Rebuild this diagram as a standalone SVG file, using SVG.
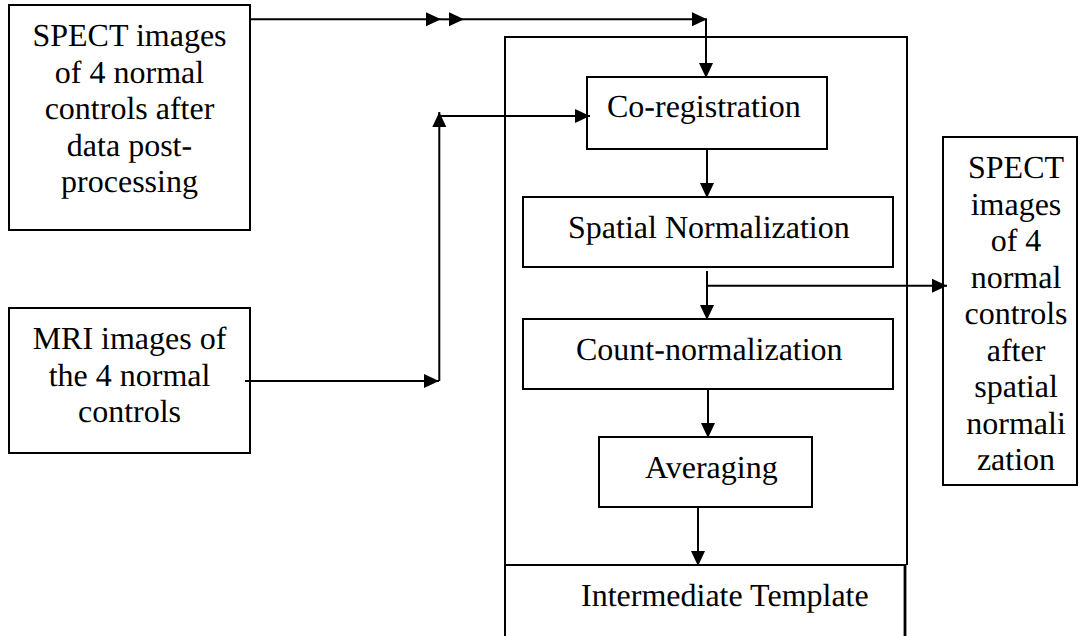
<svg xmlns="http://www.w3.org/2000/svg" width="1082" height="636" viewBox="0 0 1082 636">
  <defs>
    <style>
      .box { fill: #ffffff; stroke: #000000; stroke-width: 2; }
      .frame { fill: none; stroke: #000000; stroke-width: 2; }
      .wire { fill: none; stroke: #000000; stroke-width: 2; }
      .arrow { marker-end: url(#head); }
      text { text-rendering: geometricPrecision; }
    </style>
    <marker id="head" viewBox="0 0 15 14" markerUnits="userSpaceOnUse" markerWidth="15" markerHeight="14" refX="15" refY="7" orient="auto" overflow="visible">
      <path d="M0,0 L15,7 L0,14 Z" fill="#000000"/>
    </marker>
  </defs>

  <rect width="1082" height="636" fill="#ffffff"/>

  <!-- processing frame enclosing the pipeline steps -->
  <g id="pipeline-frame">
    <path class="frame" d="M505,640 V37 H907 V565"/>
  </g>

  <g font-family="'Liberation Serif', serif" font-size="32" fill="#000000">
    <g id="spect-input" text-anchor="middle">
      <rect class="box" x="9" y="5" width="241" height="225"/>
      <text x="129.5" y="46">SPECT images</text>
      <text x="129.5" y="82.5">of 4 normal</text>
      <text x="129.5" y="119">controls after</text>
      <text x="129.5" y="155.5">data post-</text>
      <text x="129.5" y="192">processing</text>
    </g>

    <g id="mri-input" text-anchor="middle">
      <rect class="box" x="9" y="308" width="241" height="145"/>
      <text x="129.5" y="349">MRI images of</text>
      <text x="129.5" y="386">the 4 normal</text>
      <text x="129.5" y="422">controls</text>
    </g>

    <g id="coregistration">
      <rect class="box" x="587" y="77" width="240" height="72"/>
      <text x="607" y="117">Co-registration</text>
    </g>

    <g id="spatial-normalization">
      <rect class="box" x="523" y="197" width="370" height="70"/>
      <text x="568" y="238">Spatial Normalization</text>
    </g>

    <g id="count-normalization">
      <rect class="box" x="523" y="319" width="370" height="70"/>
      <text x="576" y="360">Count-normalization</text>
    </g>

    <g id="averaging">
      <rect class="box" x="599" y="437" width="213" height="70"/>
      <text x="645" y="478">Averaging</text>
    </g>

    <g id="intermediate-template">
      <rect class="box" x="505" y="565" width="400" height="90"/>
      <line x1="905" y1="565" x2="905" y2="640" stroke="#000000" stroke-width="2.8"/>
      <text x="581" y="606">Intermediate Template</text>
    </g>

    <g id="spect-output" text-anchor="middle">
      <rect class="box" x="943" y="137" width="134" height="348"/>
      <text x="1016" y="178">SPECT</text>
      <text x="1016" y="214.5">images</text>
      <text x="1016" y="251">of 4</text>
      <text x="1016" y="287.5">normal</text>
      <text x="1016" y="324">controls</text>
      <text x="1016" y="360.5">after</text>
      <text x="1016" y="397">spatial</text>
      <text x="1016" y="433.5">normali</text>
      <text x="1016" y="470">zation</text>
    </g>
  </g>

  <g id="connectors">
    <!-- SPECT input to co-registration (top route) -->
    <path class="wire arrow" d="M250,19.3 H441"/>
    <path class="wire arrow" d="M441,19.3 H464"/>
    <path class="wire arrow" d="M464,19.3 H707"/>
    <path class="wire arrow" d="M706,19.3 V78"/>
    <!-- MRI input to co-registration -->
    <path class="wire arrow" d="M245,381 H439"/>
    <path class="wire arrow" d="M439.3,381 V112"/>
    <path class="wire arrow" d="M439.3,116 H590"/>
    <!-- pipeline steps -->
    <path class="wire arrow" d="M707,149 V198"/>
    <path class="wire arrow" d="M707,271 V320"/>
    <path class="wire arrow" d="M707,285.7 H947"/>
    <path class="wire arrow" d="M708,389 V438"/>
    <path class="wire arrow" d="M698,507 V566"/>
  </g>
</svg>
